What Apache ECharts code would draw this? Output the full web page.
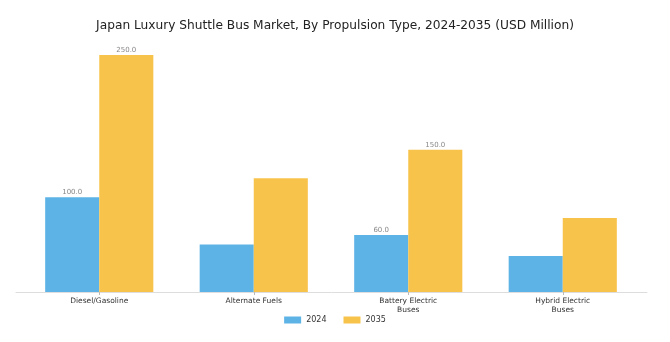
<!DOCTYPE html>
<html>
<head>
<meta charset="utf-8">
<script src="https://cdn.jsdelivr.net/npm/echarts@6/dist/echarts.min.js"></script>
<style>html,body{margin:0;padding:0;background:#fff}#c{width:670px;height:342px}</style>
</head>
<body>
<div id="c"></div>
<script>
const titleText = 'Japan Luxury Shuttle Bus Market, By Propulsion Type, 2024-2035 (USD Million)';
const categories = ['Diesel/Gasoline', 'Alternate Fuels', 'Battery Electric\nBuses', 'Hybrid Electric\nBuses'];
const seriesNames = ['2024', '2035'];
const values2024 = [100, 50, 60, 38];
const values2035 = [250, 120, 150, 78];
const labeled2024 = [true, false, true, false];
const labeled2035 = [true, false, true, false];

const FONT = 'DejaVu Sans';
function mk(vals, flags) {
  return vals.map((v, i) => ({ value: v, label: { show: flags[i] } }));
}
const chart = echarts.init(document.getElementById('c'), null, { renderer: 'canvas' });
const labelStyle = { position: 'top', distance: 1.5, fontFamily: FONT, fontSize: 7, color: '#888', formatter: p => p.value.toFixed(1) };
chart.setOption({
  animation: false,
  backgroundColor: '#fff',
  title: { text: titleText, left: 'center', top: 15, textStyle: { fontFamily: FONT, fontSize: 12.2, fontWeight: 'normal', color: '#222' } },
  legend: { data: seriesNames, top: 311, left: 'center', itemWidth: 17, itemHeight: 7, itemGap: 17, icon: 'rect',
    textStyle: { fontFamily: FONT, fontSize: 8, color: '#333' } },
  grid: [
    { left: 22, right: 30, top: 55, bottom: 50 },
    { left: 16, right: 23, top: 55, bottom: 50 }
  ],
  xAxis: [
    { type: 'category', gridIndex: 0, data: categories,
      axisLine: { show: false },
      axisTick: { show: true, alignWithLabel: true, length: 3, lineStyle: { color: '#bbb' } },
      axisLabel: { fontFamily: FONT, fontSize: 7.5, color: '#333', margin: 5, lineHeight: 9 } },
    { type: 'category', gridIndex: 1, data: [''],
      axisLine: { show: true, lineStyle: { color: '#ddd', width: 1 } },
      axisTick: { show: false }, axisLabel: { show: false } }
  ],
  yAxis: [
    { type: 'value', gridIndex: 0, min: 0, max: 250, show: false, splitLine: { show: false } },
    { type: 'value', gridIndex: 1, min: 0, max: 250, show: false, splitLine: { show: false } }
  ],
  series: [
    { name: seriesNames[0], type: 'bar', xAxisIndex: 0, yAxisIndex: 0, data: mk(values2024, labeled2024),
      itemStyle: { color: '#5DB3E6' }, barGap: '0%', barCategoryGap: '30%', label: labelStyle },
    { name: seriesNames[1], type: 'bar', xAxisIndex: 0, yAxisIndex: 0, data: mk(values2035, labeled2035),
      itemStyle: { color: '#F8C34B' }, barGap: '0%', barCategoryGap: '30%', label: labelStyle },
    { type: 'bar', xAxisIndex: 1, yAxisIndex: 1, data: [], silent: true }
  ]
});
</script>
</body>
</html>
